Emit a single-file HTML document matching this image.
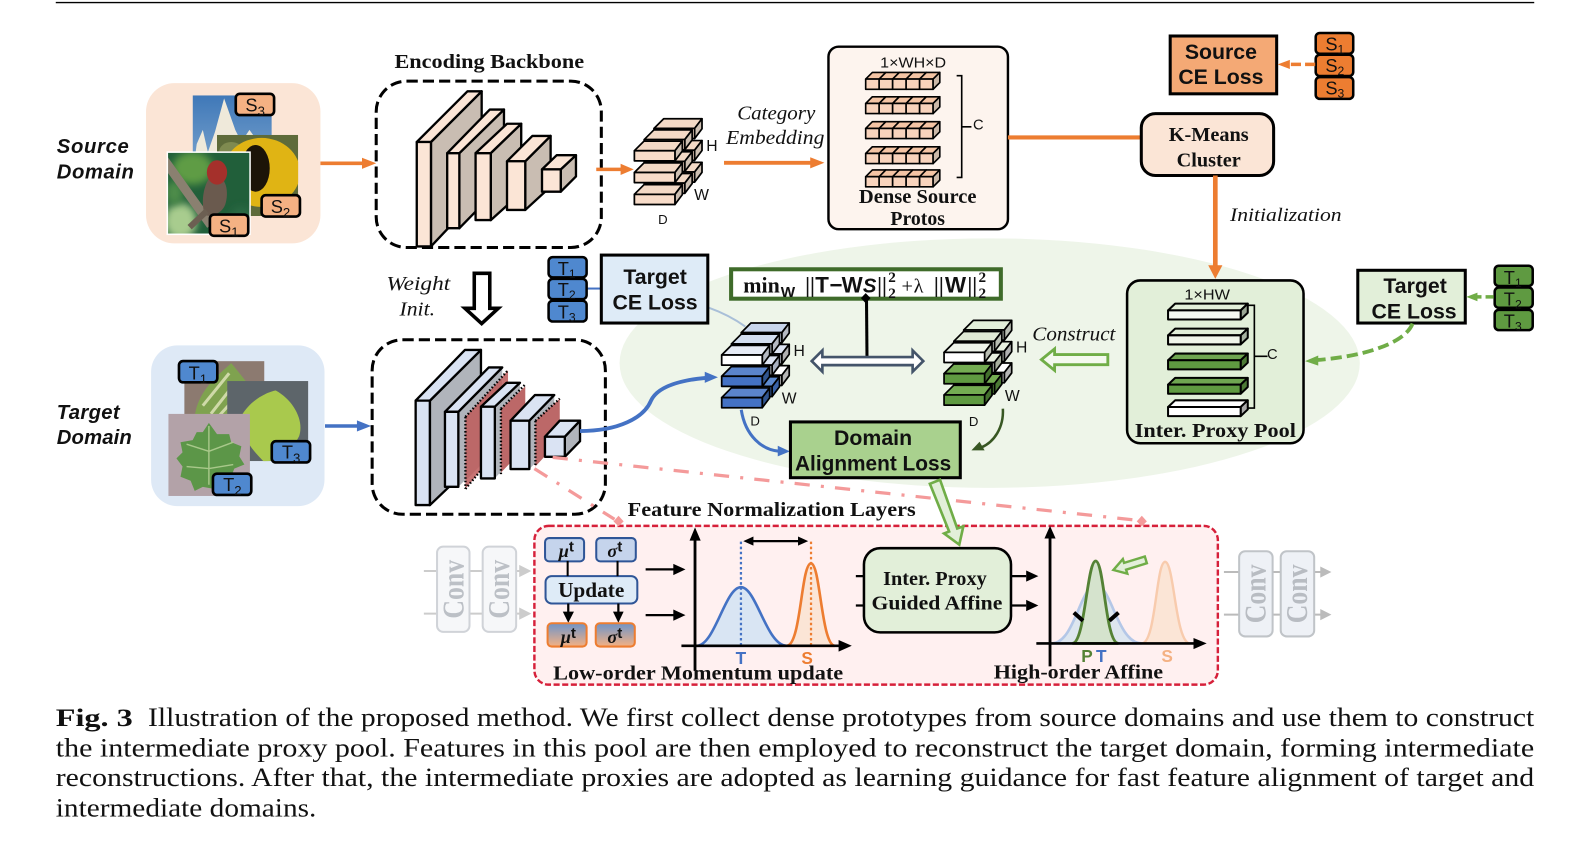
<!DOCTYPE html>
<html><head><meta charset="utf-8"><title>Fig. 3</title>
<style>
html,body{margin:0;padding:0;background:#fff;width:1590px;height:855px;overflow:hidden}
svg{display:block}
text{fill:#111}
.ss{font-family:"Liberation Sans",sans-serif}
.sb{font-family:"Liberation Sans",sans-serif;font-weight:bold}
.sbi{font-family:"Liberation Sans",sans-serif;font-weight:bold;font-style:italic}
.fb{font-family:"Liberation Serif",serif;font-weight:bold}
.fi{font-family:"Liberation Serif",serif;font-style:italic}
.f{font-family:"Liberation Serif",serif}
.m{text-anchor:middle}
.bk{stroke:#000;stroke-width:1.7;stroke-linejoin:round}
</style></head><body>
<svg xmlns="http://www.w3.org/2000/svg" width="1590" height="855" viewBox="0 0 1568 843" preserveAspectRatio="none">
<defs>
<g id="slab" class="bk">
<polygon points="0,0 9.5,-9.5 47.3,-9.5 40,0" style="fill:var(--t)"/>
<polygon points="40,0 47.3,-9.5 47.3,0.3 40,10" style="fill:var(--s)"/>
<rect x="0" y="0" width="40" height="10" style="fill:var(--f)"/>
</g>
<g id="cell" stroke="#000" stroke-width="1.6" stroke-linejoin="round">
<polygon points="0,0 6.6,-6.6 19.9,-6.6 13.3,0" fill="#f4c4a4"/>
<rect width="13.3" height="10" fill="#f8d3bc"/>
</g>
<g id="crow">
<use href="#cell"/><use href="#cell" x="13.3"/><use href="#cell" x="26.6"/><use href="#cell" x="39.9"/><use href="#cell" x="53.2"/>
<polygon points="66.5,0 73.1,-6.6 73.1,3.4 66.5,10" fill="#cbb8a8" stroke="#000" stroke-width="1.6" stroke-linejoin="round"/>
</g>
<g id="bar" stroke="#000" stroke-width="2" stroke-linejoin="round">
<polygon points="0,0 7,-6.6 78.6,-6.6 71.6,0" style="fill:var(--t)"/>
<polygon points="71.6,0 78.6,-6.6 78.6,2.4 71.6,9" style="fill:var(--s)"/>
<rect width="71.6" height="9" style="fill:var(--f)"/>
</g>
<g id="tag"><rect width="37.8" height="21" rx="4" stroke="#000" stroke-width="2.6"/></g>
<linearGradient id="bo" x1="0" y1="0" x2="0" y2="1"><stop offset="0" stop-color="#6f94c8"/><stop offset="1" stop-color="#f4b183"/></linearGradient>
<linearGradient id="sky" x1="0" y1="0" x2="0" y2="1"><stop offset="0" stop-color="#3f78b8"/><stop offset="1" stop-color="#7ea6cf"/></linearGradient>
<filter id="bl3" x="-30%" y="-30%" width="160%" height="160%"><feGaussianBlur stdDeviation="4"/></filter>
<filter id="bl1" x="-20%" y="-20%" width="140%" height="140%"><feGaussianBlur stdDeviation="1"/></filter>
<clipPath id="cBird"><rect x="165" y="150" width="81.6" height="81"/></clipPath>
<clipPath id="cFish"><rect x="214" y="133" width="80" height="80"/></clipPath>
<clipPath id="cMt"><rect x="190" y="94" width="78" height="76"/></clipPath>
<clipPath id="cL1"><rect x="181.7" y="356" width="79" height="55"/></clipPath>
<clipPath id="cL3"><rect x="224" y="375.7" width="80" height="79"/></clipPath>
<clipPath id="cL2"><rect x="166" y="408" width="80.5" height="81"/></clipPath>
</defs>

<rect width="1568" height="843" fill="#fff"/>
<line x1="55" y1="2.5" x2="1513" y2="2.5" stroke="#000" stroke-width="1.4"/>

<!-- ellipse -->
<ellipse cx="976" cy="358" rx="365" ry="123" fill="#eef5e9"/>

<!-- Source domain -->
<text class="sbi" x="56" y="151" font-size="20" textLength="71">Source</text>
<text class="sbi" x="56" y="176" font-size="20" textLength="76">Domain</text>
<rect x="144" y="82" width="172" height="158" rx="28" fill="#fbe5d6"/>
<g clip-path="url(#cMt)"><rect x="190" y="94" width="78" height="76" fill="url(#sky)"/>
<polygon points="190,172 194,142 200,128 205,150 212,130 221,97 232,128 238,140 246,128 258,145 268,172" fill="#efe9da"/></g>
<g clip-path="url(#cFish)"><rect x="214" y="133" width="80" height="80" fill="#5e6b3a"/>
<ellipse cx="228" cy="150" rx="12" ry="10" fill="#7f8a50"/>
<ellipse cx="258" cy="170" rx="38" ry="34" fill="#e0b414"/><ellipse cx="252" cy="166" rx="14" ry="23" fill="#1c1408"/></g>
<g clip-path="url(#cBird)"><rect x="165" y="150" width="82" height="82" fill="#215f3a"/>
<ellipse cx="190" cy="166" rx="20" ry="16" fill="#5f9c44" filter="url(#bl3)"/>
<ellipse cx="178" cy="218" rx="16" ry="18" fill="#a8cc8e" filter="url(#bl3)"/>
<ellipse cx="172" cy="190" rx="9" ry="12" fill="#4e8c48" filter="url(#bl3)"/>
<ellipse cx="238" cy="218" rx="12" ry="14" fill="#2a6b44" filter="url(#bl3)"/>
<line x1="160" y1="155" x2="208" y2="222" stroke="#8a8070" stroke-width="9"/>
<path d="M209,172 C224,172 226,190 222,202 C218,212 206,214 202,212 C198,200 200,182 209,172 Z" fill="#6a5a4e"/>
<line x1="204" y1="208" x2="187" y2="224" stroke="#6c5f52" stroke-width="6"/>
<ellipse cx="214" cy="170" rx="10" ry="12" fill="#a5302b"/>
</g>
<rect x="165" y="150" width="81.6" height="81" fill="none" stroke="#fff" stroke-width="1.5"/>
<use href="#tag" x="232.5" y="92.5" fill="#f4b183"/><use href="#tag" x="258" y="192.5" fill="#f4b183"/><use href="#tag" x="207" y="211.5" fill="#f4b183"/>
<text class="ss" x="242" y="110" font-size="18">S<tspan font-size="13" dy="4">3</tspan></text>
<text class="ss" x="267" y="210" font-size="18">S<tspan font-size="13" dy="4">2</tspan></text>
<text class="ss" x="216" y="229" font-size="18">S<tspan font-size="13" dy="4">1</tspan></text>
<line x1="316" y1="161" x2="358" y2="161" stroke="#ed7d31" stroke-width="3.5"/><polygon points="371,161 357,155.5 357,166.5" fill="#ed7d31"/>

<!-- Encoding backbone -->
<text class="fb" x="389" y="67" font-size="20" textLength="187" lengthAdjust="spacingAndGlyphs">Encoding Backbone</text>
<g stroke="#000" stroke-width="2.3" stroke-linejoin="round">
<polygon points="425,140 475,90 475,190 425,243" fill="#c9bdb2"/><polygon points="411,140 461,90 475,90 425,140" fill="#fbe5d6"/><rect x="411" y="140" width="14" height="103" fill="#fbe5d6"/>
<polygon points="453,151 497,108 497,180 453,225" fill="#c9bdb2"/><polygon points="441,151 483,108 497,108 453,151" fill="#fbe5d6"/><rect x="441" y="151" width="12" height="74" fill="#fbe5d6"/>
<polygon points="484,151 514,122 514,190 484,217" fill="#c9bdb2"/><polygon points="469,151 500,122 514,122 484,151" fill="#fbe5d6"/><rect x="469" y="151" width="15" height="66" fill="#fbe5d6"/>
<polygon points="518,159 543,134 543,184 518,207" fill="#c9bdb2"/><polygon points="500,159 525,134 543,134 518,159" fill="#fbe5d6"/><rect x="500" y="159" width="18" height="48" fill="#fbe5d6"/>
<polygon points="553,167 568,153 568,174 553,189" fill="#c9bdb2"/><polygon points="534.5,167 549,153 568,153 553,167" fill="#fbe5d6"/><rect x="534.5" y="167" width="18.5" height="22" fill="#fbe5d6"/>
</g>
<rect x="371" y="80" width="222" height="164" rx="30" fill="none" stroke="#000" stroke-width="3" stroke-dasharray="11 5"/>
<line x1="588" y1="167" x2="613" y2="167" stroke="#ed7d31" stroke-width="3.5"/><polygon points="625,167 612,161.5 612,172.5" fill="#ed7d31"/>

<!-- Source stack -->
<g style="--t:#f3d9c6;--s:#cdbfb2;--f:#f8dcc9">
<use href="#slab" x="645" y="126.6"/><use href="#slab" x="645" y="148.1"/><use href="#slab" x="645" y="169.6"/>
<use href="#slab" x="635.3" y="137.6"/><use href="#slab" x="635.3" y="159.1"/><use href="#slab" x="635.3" y="180.6"/>
<use href="#slab" x="625.6" y="148.6"/><use href="#slab" x="625.6" y="170.1"/><use href="#slab" x="625.6" y="191.6"/>
</g>
<text class="ss" x="696.5" y="149" font-size="15.5">H</text>
<text class="ss" x="684.5" y="197" font-size="15.5">W</text>
<text class="ss" x="649" y="221" font-size="13">D</text>

<text class="fi" x="727" y="118" font-size="20" textLength="77" lengthAdjust="spacingAndGlyphs">Category</text>
<text class="fi" x="716" y="142" font-size="20" textLength="97" lengthAdjust="spacingAndGlyphs">Embedding</text>
<line x1="714" y1="160.5" x2="800" y2="160.5" stroke="#ed7d31" stroke-width="3.8"/><polygon points="813,160.5 799,155 799,166" fill="#ed7d31"/>

<!-- Dense protos -->
<rect x="817" y="46" width="177" height="180" rx="10" fill="#fdf4ee" stroke="#000" stroke-width="2.4"/>
<text class="ss m" x="900.5" y="66.4" font-size="15" textLength="65" lengthAdjust="spacingAndGlyphs">1×WH×D</text>
<use href="#crow" x="853.7" y="78"/><use href="#crow" x="853.7" y="102"/><use href="#crow" x="853.7" y="126.6"/><use href="#crow" x="853.7" y="151.3"/><use href="#crow" x="853.7" y="174.2"/>
<path d="M943.4,74.6 H948.4 V175 H943.4 M948.4,125 H958" fill="none" stroke="#000" stroke-width="1.6"/>
<text class="ss" x="959.5" y="127.5" font-size="14.5">C</text>
<text class="fb m" x="905" y="200" font-size="19.5" textLength="116" lengthAdjust="spacingAndGlyphs">Dense Source</text>
<text class="fb m" x="905" y="222" font-size="19.5">Protos</text>

<line x1="994" y1="135.5" x2="1126" y2="135.5" stroke="#ed7d31" stroke-width="4"/>

<!-- Source CE -->
<rect x="1154" y="35.5" width="105" height="57" fill="#f4a975" stroke="#000" stroke-width="3"/>
<text class="sb m" x="1204" y="58" font-size="21">Source</text>
<text class="sb m" x="1204" y="83" font-size="21">CE Loss</text>
<g fill="#ed7d31">
<rect x="1297.5" y="32.5" width="37" height="20.5" rx="4" stroke="#000" stroke-width="2.5"/>
<rect x="1297.5" y="54" width="37" height="21" rx="4" stroke="#000" stroke-width="2.5"/>
<rect x="1297.5" y="76" width="37" height="21.5" rx="4" stroke="#000" stroke-width="2.5"/>
</g>
<text class="ss" x="1307" y="50" font-size="18">S<tspan font-size="12" dy="3">1</tspan></text>
<text class="ss" x="1307" y="71" font-size="18">S<tspan font-size="12" dy="3">2</tspan></text>
<text class="ss" x="1307" y="93" font-size="18">S<tspan font-size="12" dy="3">3</tspan></text>
<line x1="1297" y1="63.5" x2="1270" y2="63.5" stroke="#ed7d31" stroke-width="3.5" stroke-dasharray="10 4"/><polygon points="1260,63.5 1272,59 1272,68" fill="#ed7d31"/>

<!-- KMeans -->
<rect x="1125.5" y="112" width="130.5" height="61" rx="14" fill="#fbe5d6" stroke="#000" stroke-width="3"/>
<text class="fb m" x="1192" y="139" font-size="20">K-Means</text>
<text class="fb m" x="1192" y="164" font-size="20">Cluster</text>
<line x1="1198.5" y1="173" x2="1198.5" y2="263" stroke="#ed7d31" stroke-width="4.6"/><polygon points="1198.5,275 1191.5,261.5 1205.5,261.5" fill="#ed7d31"/>
<text class="fi" x="1213" y="218" font-size="19" textLength="110" lengthAdjust="spacingAndGlyphs">Initialization</text>

<!-- Pool -->
<rect x="1111.5" y="276.5" width="174" height="160.5" rx="13" fill="#e2efd9" stroke="#000" stroke-width="2.5"/>
<text class="ss m" x="1190.5" y="295.5" font-size="15" textLength="45" lengthAdjust="spacingAndGlyphs">1×HW</text>
<use href="#bar" x="1151.9" y="306" style="--t:#e2efd9;--s:#9aa694;--f:#f5f9f1"/>
<use href="#bar" x="1151.9" y="330.6" style="--t:#e2efd9;--s:#a6b2a0;--f:#f0f5ea"/>
<use href="#bar" x="1151.9" y="355.2" style="--t:#6fa551;--s:#4c7a35;--f:#5f9a41"/>
<use href="#bar" x="1151.9" y="379.2" style="--t:#6fa551;--s:#4c7a35;--f:#5f9a41"/>
<use href="#bar" x="1151.9" y="401.3" style="--t:#fff;--s:#aaa;--f:#fff"/>
<path d="M1231,301 H1237 V402.3 H1231 M1237,351.3 H1250" fill="none" stroke="#000" stroke-width="1.6"/>
<text class="ss" x="1249.5" y="354" font-size="14.5">C</text>
<text class="fb m" x="1198.5" y="431" font-size="20" textLength="159" lengthAdjust="spacingAndGlyphs">Inter. Proxy Pool</text>

<!-- right target -->
<rect x="1339" y="266.5" width="106" height="52" fill="#e2efd9" stroke="#000" stroke-width="3"/>
<text class="sb m" x="1395.5" y="289" font-size="21">Target</text>
<text class="sb m" x="1394.5" y="314" font-size="21">CE Loss</text>
<g fill="#5f9a41" stroke="#000" stroke-width="2.5">
<rect x="1474" y="262" width="37.5" height="20" rx="4"/><rect x="1474" y="283.5" width="37.5" height="20" rx="4"/><rect x="1474" y="305.5" width="37.5" height="20" rx="4"/>
</g>
<text class="ss" x="1483" y="280" font-size="18">T<tspan font-size="12" dy="3">1</tspan></text>
<text class="ss" x="1483" y="301" font-size="18">T<tspan font-size="12" dy="3">2</tspan></text>
<text class="ss" x="1483" y="323" font-size="18">T<tspan font-size="12" dy="3">3</tspan></text>
<line x1="1473" y1="292.7" x2="1455" y2="292.7" stroke="#70ad47" stroke-width="3.5" stroke-dasharray="8 4"/><polygon points="1446,292.7 1457,288.5 1457,297" fill="#70ad47"/>
<path d="M1393,319 C1385,340 1340,352 1298,355" fill="none" stroke="#70ad47" stroke-width="3.8" stroke-dasharray="11 5"/><polygon points="1287,356 1300,350.5 1300,360.5" fill="#70ad47"/>

<text class="fi" x="1018" y="335.5" font-size="19.5" textLength="82" lengthAdjust="spacingAndGlyphs">Construct</text>
<polygon points="1027,354.6 1040,344 1040,349.6 1092.5,349.6 1092.5,359.6 1040,359.6 1040,365.2" fill="#f4f9ef" stroke="#70ad47" stroke-width="2.8"/>

<!-- Left target CE -->
<path d="M698,303 C712,308 724,314 735,322" fill="none" stroke="#a9bfd8" stroke-width="2"/>
<line x1="578" y1="284.5" x2="593" y2="284.5" stroke="#4472c4" stroke-width="2"/>
<rect x="593" y="251.5" width="105" height="67" fill="#deebf7" stroke="#000" stroke-width="3"/>
<text class="sb m" x="646" y="280" font-size="21">Target</text>
<text class="sb m" x="646" y="305" font-size="21">CE Loss</text>
<g fill="#4f88cf" stroke="#000" stroke-width="2.5">
<rect x="541" y="253.5" width="37.5" height="20" rx="4"/><rect x="541" y="275" width="37.5" height="20" rx="4"/><rect x="541" y="296.5" width="37.5" height="20.5" rx="4"/>
</g>
<text class="ss" x="550" y="271" font-size="18">T<tspan font-size="12" dy="3">1</tspan></text>
<text class="ss" x="550" y="292" font-size="18">T<tspan font-size="12" dy="3">2</tspan></text>
<text class="ss" x="550" y="314" font-size="18">T<tspan font-size="12" dy="3">3</tspan></text>

<!-- Weight -->
<text class="fi" x="381" y="286" font-size="20" textLength="63" lengthAdjust="spacingAndGlyphs">Weight</text>
<text class="fi" x="394" y="311" font-size="20" textLength="35" lengthAdjust="spacingAndGlyphs">Init.</text>
<polygon points="467.7,269.5 483,269.5 483,304 491.4,304 475,319 458.5,304 467.7,304" fill="#fff" stroke="#000" stroke-width="3.5"/>

<!-- Target domain -->
<text class="sbi" x="56" y="413" font-size="20" textLength="62">Target</text>
<text class="sbi" x="56" y="438" font-size="20" textLength="74">Domain</text>
<rect x="149" y="340.5" width="171" height="158.5" rx="26" fill="#dee9f6"/>
<g clip-path="url(#cL1)"><rect x="181.7" y="356" width="79" height="55" fill="#8c7a70"/><path d="M192,411 C195,385 215,370 228,358 C240,372 258,395 262,411 Z" fill="#7fa24f"/>
<path d="M200,400 L226,368 M208,408 L230,380 M216,410 L236,388" stroke="#cfd9a8" stroke-width="3" fill="none"/></g>
<g clip-path="url(#cL3)"><rect x="224" y="375.7" width="80" height="79" fill="#5d656a"/><path d="M238,410 C250,390 270,385 272,385 C290,395 300,415 295,430 C285,450 270,455 260,455 C245,440 235,425 238,410 Z" fill="#a9c94d"/></g>
<g clip-path="url(#cL2)"><rect x="166" y="408" width="80.5" height="81" fill="#b3a2a8"/><path d="M206,417 L214,428 L226,428 L228,436 L238,440 L236,450 L241,458 L231,462 L228,470 L216,472 L211,482 L200,480 L192,484 L188,474 L178,470 L180,460 L174,452 L180,446 L178,436 L190,434 L194,426 L200,426 Z" fill="#5c9648"/>
<path d="M206,420 V478 M206,445 L184,438 M206,445 L230,436 M206,462 L184,460 M206,462 L230,458" stroke="#a8c88a" stroke-width="1.4" fill="none"/></g>
<use href="#tag" x="176.5" y="356" fill="#4f88cf"/><use href="#tag" x="268" y="435" fill="#4f88cf"/><use href="#tag" x="210" y="467" fill="#4f88cf"/>
<text class="ss" x="186" y="374" font-size="18">T<tspan font-size="13" dy="4">1</tspan></text>
<text class="ss" x="278" y="452" font-size="18">T<tspan font-size="13" dy="4">3</tspan></text>
<text class="ss" x="220" y="484" font-size="18">T<tspan font-size="13" dy="4">2</tspan></text>
<line x1="320.5" y1="420" x2="353" y2="420" stroke="#4472c4" stroke-width="3.5"/><polygon points="366,420 352,414.5 352,425.5" fill="#4472c4"/>

<!-- Target backbone -->
<g stroke="#000" stroke-width="2.3" stroke-linejoin="round">
<polygon points="424,395 474.3,345 474.3,450 424,498" fill="#b0b4bb"/><polygon points="409.9,395 458.5,345 474.3,345 424,395" fill="#dae3f3"/><rect x="409.9" y="395" width="14" height="103" fill="#dae3f3"/>
<polygon points="459,411 501,365 501,432 459,482" fill="#c77373" stroke="none"/>
<polygon points="452,406 495.3,362.3 495.3,437 452,479.9" fill="#b0b4bb" stroke="none"/>
<polygon points="459,411 495.3,372 495.3,437 459,474" fill="#bc6868" stroke="none"/>
<path d="M452,406 L495.3,362.3" fill="none"/>
<polygon points="438.8,406 482,362.3 495.3,362.3 452,406" fill="#dae3f3"/><rect x="438.8" y="406" width="13.2" height="74" fill="#dae3f3"/>
<path d="M459,411 L459,482 M459,411 L501,365 M459,482 L501,432" fill="none" stroke-dasharray="1.5 2"/>
<polygon points="488,401 512.8,377.4 512.8,444 488,471.7" fill="#b0b4bb" stroke="none"/>
<polygon points="494,403 518,381 518,441 494,466" fill="#bc6868" stroke="none"/>
<polygon points="474.3,401 499.6,377.4 512.8,377.4 488,401" fill="#dae3f3"/><rect x="474.3" y="401" width="13.7" height="70.7" fill="#dae3f3"/>
<path d="M494,403 L494,468 M494,403 L518,379" fill="none" stroke-dasharray="1.5 2"/>
<polygon points="522,414.8 546.6,389.5 546.6,437 522,462.5" fill="#b0b4bb" stroke="none"/>
<polygon points="528,415 552,393 552,434 528,460" fill="#bc6868" stroke="none"/>
<polygon points="503.5,414.8 527.5,389.5 546.6,389.5 522,414.8" fill="#dae3f3"/><rect x="503.5" y="414.8" width="18.5" height="47.7" fill="#dae3f3"/>
<path d="M528,415 L528,460 M528,415 L552,393" fill="none" stroke-dasharray="1.5 2"/>
<polygon points="557,430.6 572,414.8 572,435 557,450.4" fill="#b0b4bb"/><polygon points="537.4,430.6 552,414.8 572,414.8 557,430.6" fill="#dae3f3"/><rect x="537.4" y="430.6" width="19.6" height="19.8" fill="#dae3f3"/>
</g>
<rect x="367" y="335" width="230" height="172" rx="30" fill="none" stroke="#000" stroke-width="3" stroke-dasharray="11 5"/>

<!-- pink dash-dots -->
<line x1="545" y1="451" x2="1122" y2="513" stroke="#f49a9a" stroke-width="3.2" stroke-dasharray="15 11 3 11"/>
<line x1="527" y1="462" x2="606" y2="512" stroke="#f49a9a" stroke-width="3.2" stroke-dasharray="15 11 3 11"/>

<!-- Blue curves -->
<path d="M572,425 C610,425 635,412 642,395 C650,378 680,374 697,372.5" fill="none" stroke="#4472c4" stroke-width="3.8"/>
<polygon points="708,372 695,366.5 695,377.5" fill="#4472c4"/>

<!-- formula -->
<rect x="721" y="265.5" width="266" height="29" fill="#fff" stroke="#3f6b2a" stroke-width="4"/>
<text class="f" x="733" y="288.5" font-size="22" textLength="36" lengthAdjust="spacingAndGlyphs" font-weight="bold">min</text>
<text class="sb" x="770" y="293" font-size="15">W</text>
<text class="f" x="794" y="288.5" font-size="22" font-weight="bold">||</text>
<text class="sb" x="804" y="288.5" font-size="22">T</text>
<text class="sb" x="818" y="288.5" font-size="22">−</text>
<text class="sb" x="830" y="288.5" font-size="22">W</text>
<text class="sb" x="851" y="288.5" font-size="20" font-style="italic">S</text>
<text class="f" x="865" y="288.5" font-size="22" font-weight="bold">||</text>
<text class="fb" x="876" y="278" font-size="15">2</text>
<text class="fb" x="876" y="294" font-size="15">2</text>
<text class="f" x="889" y="288.5" font-size="20">+</text>
<text class="f" x="901" y="288.5" font-size="20">λ</text>
<text class="f" x="921" y="288.5" font-size="22" font-weight="bold">||</text>
<text class="sb" x="932" y="288.5" font-size="22">W</text>
<text class="f" x="954" y="288.5" font-size="22" font-weight="bold">||</text>
<text class="fb" x="965" y="278" font-size="15">2</text>
<text class="fb" x="965" y="294" font-size="15">2</text>
<polygon points="853.7,289 858.5,294 853.7,299 849,294" fill="#000"/>
<line x1="854.5" y1="294" x2="855" y2="352" stroke="#000" stroke-width="3"/>
<polygon points="800.5,356 811,345.5 811,352 900,352 900,345.5 910.5,356 900,366.5 900,360 811,360 811,366.5" fill="#fff" stroke="#44546a" stroke-width="2.6"/>

<!-- Blue stack -->
<use href="#slab" x="731" y="328" style="--t:#c8d5ec;--s:#b5b9c2;--f:#dae3f3"/>
<use href="#slab" x="731" y="349" style="--t:#dde4f2;--s:#b0b0b0;--f:#e7ecf6"/>
<use href="#slab" x="731" y="370" style="--t:#fff;--s:#b5b5b5;--f:#fff"/>
<use href="#slab" x="721.4" y="339" style="--t:#d3def0;--s:#b5b9c2;--f:#e7ecf6"/>
<use href="#slab" x="721.4" y="360" style="--t:#dde4f2;--s:#a8b0c0;--f:#e7ecf6"/>
<use href="#slab" x="721.4" y="381" style="--t:#5e8bd0;--s:#3a63a8;--f:#4472c4"/>
<use href="#slab" x="711.7" y="350" style="--t:#e6ebf5;--s:#b5b9c2;--f:#fff"/>
<use href="#slab" x="711.7" y="371" style="--t:#5b84cb;--s:#31558f;--f:#4472c4"/>
<use href="#slab" x="711.7" y="392" style="--t:#5b84cb;--s:#31558f;--f:#4472c4"/>
<text class="ss" x="782.5" y="351" font-size="15.5">H</text>
<text class="ss" x="771" y="398" font-size="15.5">W</text>
<text class="ss" x="740" y="419.5" font-size="13">D</text>

<!-- Green stack -->
<use href="#slab" x="950.4" y="325.4" style="--t:#e2efd9;--s:#b8bdb2;--f:#eaf2e3"/>
<use href="#slab" x="950.4" y="346.4" style="--t:#e8f0e0;--s:#b0b0b0;--f:#f0f5ea"/>
<use href="#slab" x="950.4" y="367.4" style="--t:#fff;--s:#b5b5b5;--f:#fff"/>
<use href="#slab" x="940.7" y="336.4" style="--t:#dfe9d5;--s:#b8bdb2;--f:#f0f5ea"/>
<use href="#slab" x="940.7" y="357.4" style="--t:#e8f0e0;--s:#a8b09e;--f:#f0f5ea"/>
<use href="#slab" x="940.7" y="378.4" style="--t:#74ac52;--s:#4c7a35;--f:#5f9a41"/>
<use href="#slab" x="931" y="347.4" style="--t:#eef3ea;--s:#b8bdb2;--f:#fff"/>
<use href="#slab" x="931" y="368.4" style="--t:#74ac52;--s:#43702d;--f:#5f9a41"/>
<use href="#slab" x="931" y="389.4" style="--t:#74ac52;--s:#43702d;--f:#5f9a41"/>
<text class="ss" x="1002" y="347.8" font-size="15.5">H</text>
<text class="ss" x="991" y="395.4" font-size="15.5">W</text>
<text class="ss" x="955.5" y="420" font-size="13">D</text>

<!-- Domain alignment -->
<path d="M731,404 C735,430 752,444 769,445" fill="none" stroke="#4472c4" stroke-width="3"/><polygon points="779,445 767,439.5 767,450" fill="#4472c4"/>
<rect x="779.5" y="416" width="167.5" height="55" fill="#a9d18e" stroke="#000" stroke-width="3"/>
<text class="sb m" x="861" y="439" font-size="21">Domain</text>
<text class="sb m" x="861" y="464" font-size="21" textLength="154" lengthAdjust="spacingAndGlyphs">Alignment Loss</text>
<path d="M989,403 C990,422 980,436 968,441" fill="none" stroke="#385723" stroke-width="2.5"/><polygon points="958,444 966,435.5 971,444" fill="#385723"/>

<!-- Red box -->
<rect x="527" y="518.5" width="674" height="156.5" rx="14" fill="#fff0f0" stroke="#d6203a" stroke-width="2.4" stroke-dasharray="6 2.5"/>
<polygon points="1126,508.5 1131,514 1126,519 1121,514" fill="#f49a9a"/>
<polygon points="610,508.5 615,514 610,519 605,514" fill="#f49a9a"/>
<text class="fb" x="619" y="509" font-size="20" textLength="284" lengthAdjust="spacingAndGlyphs">Feature Normalization Layers</text>

<!-- Green hollow arrow -->
<polygon points="917,477 927,473 944,521 950,519 946,537 931,526 936,524" fill="#e2efd9" stroke="#70ad47" stroke-width="2.6"/>

<!-- left Conv -->
<g stroke="#ccc" stroke-width="2" fill="none">
<path d="M418,563 H431 M463,563 H476 M509,563 H515 M418,605 H431 M463,605 H476 M509,605 H515"/>
</g>
<polygon points="524,563 512,557 512,569" fill="#ccc"/><polygon points="524,605 512,599 512,611" fill="#ccc"/>
<rect x="431" y="539" width="32" height="84" rx="6" fill="#f6f7f9" stroke="#d0d3d8" stroke-width="2"/>
<rect x="476" y="539" width="33" height="84" rx="6" fill="#f6f7f9" stroke="#d0d3d8" stroke-width="2"/>
<text class="fb m" transform="translate(457,581) rotate(-90)" font-size="30" textLength="58" lengthAdjust="spacingAndGlyphs" style="fill:#bcc0c6">Conv</text>
<text class="fb m" transform="translate(502,581) rotate(-90)" font-size="30" textLength="58" lengthAdjust="spacingAndGlyphs" style="fill:#bcc0c6">Conv</text>

<!-- stats -->
<g stroke="#2f5597" stroke-width="2">
<rect x="537.5" y="530.5" width="38.5" height="23" rx="4" fill="#c5d4ec"/>
<rect x="588" y="530.5" width="39" height="23" rx="4" fill="#c5d4ec"/>
<rect x="538" y="568" width="90.5" height="27" rx="6" fill="#deebf7"/>
</g>
<path d="M559.8,553 V568 M609,553 V568" stroke="#000" stroke-width="2"/>
<path d="M560.4,595 V604 M609.8,595 V604" stroke="#000" stroke-width="2.2"/>
<polygon points="560.4,614 555,603 566,603" fill="#000"/><polygon points="609.8,614 604.5,603 615,603" fill="#000"/>
<rect x="540" y="614.5" width="38.5" height="23" rx="4" fill="url(#bo)" stroke="#ed7d31" stroke-width="2"/>
<rect x="587.5" y="614.5" width="38.5" height="23" rx="4" fill="url(#bo)" stroke="#ed7d31" stroke-width="2"/>
<text class="fb" x="551" y="549" font-size="18" font-style="italic">μ<tspan class="sb" font-size="15" font-style="normal" dy="-5">t</tspan></text>
<text class="fb" x="599" y="549" font-size="18" font-style="italic">σ<tspan class="sb" font-size="15" font-style="normal" dy="-5">t</tspan></text>
<text class="fb m" x="583" y="588.5" font-size="21">Update</text>
<text class="fb" x="553" y="634" font-size="18" font-style="italic">μ<tspan class="sb" font-size="15" font-style="normal" dy="-5">t</tspan></text>
<text class="fb" x="599" y="634" font-size="18" font-style="italic">σ<tspan class="sb" font-size="15" font-style="normal" dy="-5">t</tspan></text>
<path d="M636.7,561.4 H665 M636.7,606.5 H665" stroke="#000" stroke-width="2.2"/>
<polygon points="676,561.4 664,556 664,567" fill="#000"/><polygon points="676,606.5 664,601 664,612" fill="#000"/>

<!-- chart 1 -->
<path d="M687,636.7 C705,636.7 715,579 730.7,579 C746,579 756,636.7 775.8,636.7 Z" fill="#d9e5f3" stroke="#4472c4" stroke-width="2.6"/>
<path d="M775.8,636.7 C790,636.7 790,555.5 799.8,555.5 C809,555.5 810,636.7 823.4,636.7 Z" fill="#fbe5d6" stroke="#ed7d31" stroke-width="2.6"/>
<line x1="730.7" y1="534" x2="730.7" y2="636" stroke="#4472c4" stroke-width="2.2" stroke-dasharray="2.5 2.5"/>
<line x1="799.8" y1="534" x2="799.8" y2="636" stroke="#ed7d31" stroke-width="2.2" stroke-dasharray="2.5 2.5"/>
<line x1="685.4" y1="530" x2="685.4" y2="661" stroke="#000" stroke-width="2.8"/><polygon points="685.4,520 680,533 691,533" fill="#000"/>
<line x1="672" y1="636.7" x2="830" y2="636.7" stroke="#000" stroke-width="2.6"/><polygon points="840,636.7 827,631 827,642.5" fill="#000"/>
<line x1="741" y1="533.5" x2="789" y2="533.5" stroke="#000" stroke-width="2.2"/><polygon points="733,533.5 743,529 743,538" fill="#000"/><polygon points="797,533.5 787,529 787,538" fill="#000"/>
<text class="sb m" x="730.7" y="654.5" font-size="17" style="fill:#4472c4">T</text>
<text class="sb m" x="796" y="654.5" font-size="17" style="fill:#ed7d31">S</text>
<text class="fb" x="545.5" y="670" font-size="20" textLength="286" lengthAdjust="spacingAndGlyphs">Low-order Momentum update</text>

<!-- Affine box -->
<path d="M844,568 H852 M844,597 H852 M997,568 H1012 M997,597 H1012" stroke="#000" stroke-width="2.2"/>
<polygon points="1024,568 1012,562.5 1012,573.5" fill="#000"/><polygon points="1024,597 1012,591.5 1012,602.5" fill="#000"/>
<rect x="852" y="540.5" width="145" height="83" rx="16" fill="#e2efd9" stroke="#000" stroke-width="2.5"/>
<text class="fb m" x="922" y="577" font-size="20">Inter. Proxy</text>
<text class="fb m" x="924" y="601" font-size="20" textLength="129" lengthAdjust="spacingAndGlyphs">Guided Affine</text>

<!-- chart 2 -->
<path d="M1037,634.4 C1060,634.4 1065,577 1081,577 C1096,577 1102,634.4 1126,634.4 Z" fill="#dde6ef" stroke="#b4c7e7" stroke-width="2.6"/>
<path d="M1057.5,634.4 C1070,634.4 1072,553.2 1080.5,553.2 C1089,553.2 1090,634.4 1103,634.4 Z" fill="#d5e3cd" stroke="#548235" stroke-width="2.8"/>
<path d="M1126,634.4 C1140,634.4 1140,554 1149,554 C1158,554 1159,634.4 1173.6,634.4 Z" fill="#fbe5d6" stroke="#f8cbad" stroke-width="2.4"/>
<line x1="1035.5" y1="528" x2="1035.5" y2="657" stroke="#000" stroke-width="2.8"/><polygon points="1035.5,518.5 1030,531 1041,531" fill="#000"/>
<line x1="1022" y1="634.4" x2="1180" y2="634.4" stroke="#000" stroke-width="2.6"/><polygon points="1190,634.4 1177,629 1177,640" fill="#000"/>
<line x1="1059" y1="604" x2="1068" y2="612" stroke="#000" stroke-width="4"/>
<line x1="1094" y1="612" x2="1103" y2="604" stroke="#000" stroke-width="4"/>
<polygon points="1131,555.3 1129,548.7 1108.5,555 1107.3,551.2 1098,562 1111.7,565.6 1110.5,561.7" fill="#e2efd9" stroke="#70ad47" stroke-width="2.4"/>
<text class="sb m" x="1072" y="652.5" font-size="17" style="fill:#548235">P</text>
<text class="sb m" x="1086" y="652.5" font-size="17" style="fill:#4472c4">T</text>
<text class="sb m" x="1151" y="652.5" font-size="17" style="fill:#f4b183">S</text>
<text class="fb" x="980" y="669" font-size="20" textLength="167" lengthAdjust="spacingAndGlyphs">High-order Affine</text>

<!-- right Conv -->
<path d="M1207,564 H1222 M1255,564 H1263 M1296,564 H1303 M1207,606 H1222 M1255,606 H1263 M1296,606 H1303" stroke="#bbb" stroke-width="2"/>
<polygon points="1313,564 1302,558.5 1302,569.5" fill="#bbb"/><polygon points="1313,606 1302,600.5 1302,611.5" fill="#bbb"/>
<rect x="1222" y="543.5" width="33" height="84" rx="6" fill="#eef1f6" stroke="#c0c4c8" stroke-width="2"/>
<rect x="1263" y="543.5" width="33" height="84" rx="6" fill="#eef1f6" stroke="#c0c4c8" stroke-width="2"/>
<text class="fb m" transform="translate(1248,585.5) rotate(-90)" font-size="30" textLength="58" lengthAdjust="spacingAndGlyphs" style="fill:#b8bcc2">Conv</text>
<text class="fb m" transform="translate(1289,585.5) rotate(-90)" font-size="30" textLength="58" lengthAdjust="spacingAndGlyphs" style="fill:#b8bcc2">Conv</text>

<!-- Caption -->
<text class="fb" x="55" y="716" font-size="25" textLength="76" lengthAdjust="spacingAndGlyphs">Fig. 3</text>
<text class="f" x="146" y="716" font-size="25.5" textLength="1367" lengthAdjust="spacingAndGlyphs">Illustration of the proposed method. We first collect dense prototypes from source domains and use them to construct</text>
<text class="f" x="55" y="746" font-size="25.5" textLength="1458" lengthAdjust="spacingAndGlyphs">the intermediate proxy pool. Features in this pool are then employed to reconstruct the target domain, forming intermediate</text>
<text class="f" x="55" y="775" font-size="25.5" textLength="1458" lengthAdjust="spacingAndGlyphs">reconstructions. After that, the intermediate proxies are adopted as learning guidance for fast feature alignment of target and</text>
<text class="f" x="55" y="805" font-size="25.5" textLength="257" lengthAdjust="spacingAndGlyphs">intermediate domains.</text>
</svg>
</body></html>
